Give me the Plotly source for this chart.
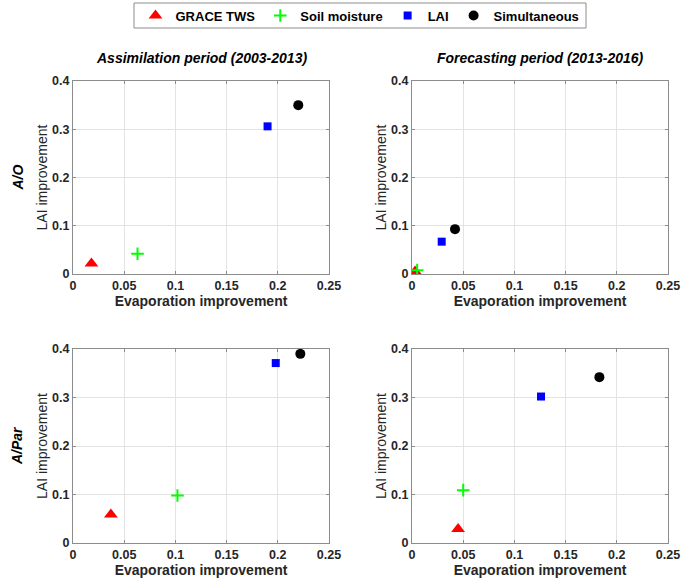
import plotly.graph_objects as go

W, H = 685, 587

series_names = ["GRACE TWS", "Soil moisture", "LAI", "Simultaneous"]
series_colors = ["#ff0000", "#00ff00", "#0000ff", "#000000"]
series_symbols = ["triangle-up", "cross-thin", "square", "circle"]
series_sizes = [12, 9, 8, 10]

panel_titles = ["Assimilation period (2003-2013)", "Forecasting period (2013-2016)"]
row_labels = ["A/O", "A/Par"]

# Evaporation improvement (x) and LAI improvement (y) per panel, series order as above
evap_tl = [0.018, 0.063, 0.190, 0.220]
lai_tl = [0.022, 0.042, 0.306, 0.350]
evap_tr = [0.003, 0.005, 0.029, 0.042]
lai_tr = [0.005, 0.008, 0.067, 0.093]
evap_bl = [0.037, 0.102, 0.198, 0.222]
lai_bl = [0.059, 0.098, 0.371, 0.390]
evap_br = [0.045, 0.050, 0.126, 0.183]
lai_br = [0.029, 0.109, 0.302, 0.342]

x_ticks = [0, 0.05, 0.1, 0.15, 0.2, 0.25]
y_ticks = [0, 0.1, 0.2, 0.3, 0.4]

panels = [(evap_tl, lai_tl), (evap_tr, lai_tr), (evap_bl, lai_bl), (evap_br, lai_br)]

# pixel layout of plot areas
col_px = [(73, 329), (412, 668)]
row_px = [(81, 274), (349, 543)]

fig = go.Figure()
layout = dict(
    width=W, height=H,
    margin=dict(l=0, r=0, t=0, b=0),
    paper_bgcolor="white", plot_bgcolor="white",
    font=dict(family="Liberation Sans, Arial, sans-serif", color="#262626"),
    showlegend=True,
    legend=dict(
        orientation="h", x=360 / W, xanchor="center", y=1 - 15.5 / H, yanchor="middle",
        borderwidth=0, bgcolor="rgba(0,0,0,0)",
        font=dict(size=13, weight="bold", color="#000000"),
        itemwidth=30, tracegroupgap=0,
    ),
    shapes=[dict(type="rect", xref="paper", yref="paper",
                 x0=134 / W, x1=586 / W, y0=1 - 28 / H, y1=1 - 3 / H,
                 line=dict(color="#8c8c8c", width=1), fillcolor="rgba(0,0,0,0)",
                 layer="below")],
)

annotations = []
for idx, (xs, ys) in enumerate(panels):
    r, c = divmod(idx, 2)
    ax_id = "" if idx == 0 else str(idx + 1)
    x0, x1 = col_px[c]
    y0, y1 = row_px[r]
    layout["xaxis" + ax_id] = dict(
        domain=[x0 / W, x1 / W], anchor="y" + ax_id,
        range=[0, 0.25], tickvals=x_ticks, ticktext=[f"{v:g}" for v in x_ticks],
        showgrid=True, gridcolor="#e3e3e3", gridwidth=1,
        showline=True, linecolor="#8c8c8c", linewidth=1, mirror="ticks",
        ticks="inside", ticklen=3, tickcolor="#8c8c8c",
        tickfont=dict(size=12.5, weight="bold", color="#262626"),
        zeroline=False, automargin=False,
        title=dict(text="Evaporation improvement", standoff=1,
                   font=dict(size=14, weight="bold", color="#262626")),
    )
    layout["yaxis" + ax_id] = dict(
        domain=[1 - y1 / H, 1 - y0 / H], anchor="x" + ax_id,
        range=[0, 0.4], tickvals=y_ticks, ticktext=[f"{v:g}" for v in y_ticks],
        showgrid=True, gridcolor="#e3e3e3", gridwidth=1,
        showline=True, linecolor="#8c8c8c", linewidth=1, mirror="ticks",
        ticks="inside", ticklen=3, tickcolor="#8c8c8c",
        tickfont=dict(size=12.5, weight="bold", color="#262626"),
        zeroline=False, automargin=False,
        title=dict(text="LAI improvement", standoff=1,
                   font=dict(size=14, color="#262626")),
    )
    for s in range(4):
        fig.add_trace(go.Scatter(
            x=[xs[s]], y=[ys[s]], mode="markers", name=series_names[s],
            legendgroup=series_names[s], showlegend=(idx == 0),
            xaxis="x" + ax_id, yaxis="y" + ax_id,
            marker=dict(symbol=series_symbols[s], size=series_sizes[s],
                        color=series_colors[s],
                        line=dict(color=series_colors[s], width=2 if s == 1 else 0)),
        ))

for c in range(2):
    x0, x1 = col_px[c]
    annotations.append(dict(
        text=panel_titles[c], x=(x0 + x1) / 2 / W, y=1 - 58 / H,
        xref="paper", yref="paper", xanchor="center", yanchor="middle",
        showarrow=False, font=dict(size=14, weight="bold", style="italic", color="#000000"),
    ))
for r in range(2):
    y0, y1 = row_px[r]
    annotations.append(dict(
        text=row_labels[r], x=17 / W, y=1 - (y0 + y1) / 2 / H,
        xref="paper", yref="paper", xanchor="center", yanchor="middle",
        textangle=-90, showarrow=False,
        font=dict(size=14, weight="bold", style="italic", color="#000000"),
    ))
layout["annotations"] = annotations

fig.update_layout(**layout)
fig.write_html("out.html", config={"displayModeBar": False},
               post_script="document.body.style.margin='0';")
